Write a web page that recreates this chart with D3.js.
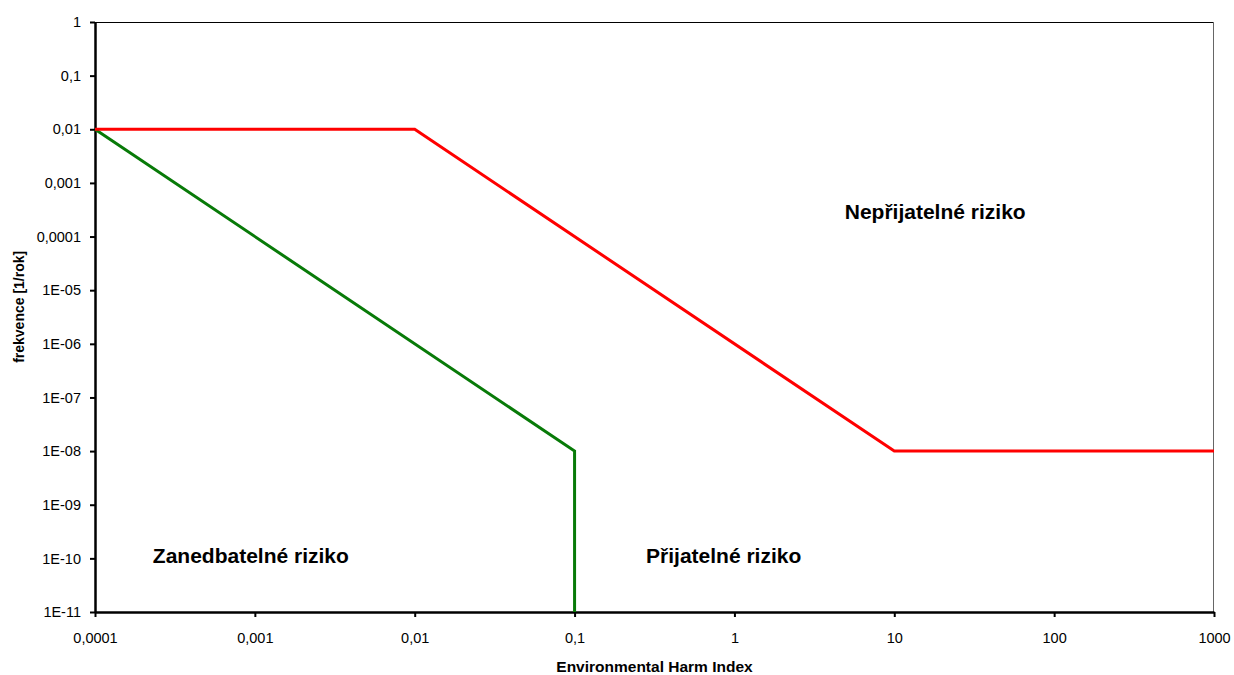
<!DOCTYPE html>
<html>
<head>
<meta charset="utf-8">
<script src="https://cdn.jsdelivr.net/npm/d3@7"></script>
<style>
  body { margin: 0; background: #fff; }
  text { font-family: Arial, "Liberation Sans", sans-serif; }
</style>
</head>
<body>
<div id="chart"></div>
<script>
// data
var xTicks = [0.0001, 0.001, 0.01, 0.1, 1, 10, 100, 1000];
var xTickLabels = ["0,0001", "0,001", "0,01", "0,1", "1", "10", "100", "1000"];
var yTicks = [1, 0.1, 0.01, 0.001, 0.0001, 1e-5, 1e-6, 1e-7, 1e-8, 1e-9, 1e-10, 1e-11];
var yTickLabels = ["1", "0,1", "0,01", "0,001", "0,0001", "1E-05", "1E-06", "1E-07", "1E-08", "1E-09", "1E-10", "1E-11"];

var redX = [0.0001, 0.01, 10, 1000];
var redY = [0.01, 0.01, 1e-8, 1e-8];
var greenX = [0.0001, 0.1, 0.1];
var greenY = [0.01, 1e-8, 1e-11];

var regionNames = ["Nepřijatelné riziko", "Zanedbatelné riziko", "Přijatelné riziko"];
var regionX = [4.9, 0.00023, 0.28];
var regionY = [2.1e-4, 8.1e-11, 8.1e-11];

var xTitle = "Environmental Harm Index";
var yTitle = "frekvence [1/rok]";

// dimensions
var margin = { top: 22, right: 20, bottom: 63, left: 95 },
    width = 1234 - margin.left - margin.right,
    height = 675 - margin.top - margin.bottom;

var svg = d3.select("#chart")
    .append("svg")
    .attr("width", 1234)
    .attr("height", 675)
    .append("g")
    .attr("transform", "translate(" + margin.left + "," + margin.top + ")");

var x = d3.scaleLog().domain([0.0001, 1000]).range([0, width]);
var y = d3.scaleLog().domain([1e-11, 1]).range([height, 0]);

// plot box (top and right thin)
svg.append("line")
    .attr("x1", 0).attr("x2", width).attr("y1", 0.5).attr("y2", 0.5)
    .attr("stroke", "#000").attr("stroke-width", 1);
svg.append("line")
    .attr("x1", width - 0.5).attr("x2", width - 0.5).attr("y1", 0).attr("y2", height)
    .attr("stroke", "#666").attr("stroke-width", 1);

// axes
var xAxis = svg.append("g")
    .attr("transform", "translate(0," + height + ")")
    .call(d3.axisBottom(x).tickValues(xTicks)
        .tickFormat(function (d, i) { return xTickLabels[i]; })
        .tickSizeInner(5).tickSizeOuter(0).tickPadding(16));

var yAxis = svg.append("g")
    .call(d3.axisLeft(y).tickValues(yTicks)
        .tickFormat(function (d, i) { return yTickLabels[i]; })
        .tickSizeInner(5).tickSizeOuter(0).tickPadding(9));

[xAxis, yAxis].forEach(function (a) {
    a.select(".domain").attr("stroke", "#000").attr("stroke-width", 2.5);
    a.selectAll(".tick line").attr("stroke", "#000").attr("stroke-width", 2);
    a.selectAll(".tick text")
        .style("font-family", "Arial, 'Liberation Sans', sans-serif")
        .style("font-size", "14.5px")
        .attr("fill", "#000");
});

// lines
var line = d3.line()
    .x(function (d) { return x(d[0]); })
    .y(function (d) { return y(d[1]); });

svg.append("path")
    .datum(greenX.map(function (v, i) { return [v, greenY[i]]; }))
    .attr("fill", "none")
    .attr("stroke", "#087A08")
    .attr("stroke-width", 3)
    .attr("d", line);

svg.append("path")
    .datum(redX.map(function (v, i) { return [v, redY[i]]; }))
    .attr("fill", "none")
    .attr("stroke", "#FF0000")
    .attr("stroke-width", 3)
    .attr("d", line);

// region labels
svg.selectAll("text.region")
    .data(regionNames)
    .enter()
    .append("text")
    .attr("class", "region")
    .attr("x", function (d, i) { return x(regionX[i]); })
    .attr("y", function (d, i) { return y(regionY[i]); })
    .style("font-size", "21px")
    .style("font-weight", "bold")
    .text(function (d) { return d; });

// axis titles
svg.append("text")
    .attr("x", width / 2)
    .attr("y", height + 60)
    .style("text-anchor", "middle")
    .style("font-size", "15.5px")
    .style("font-weight", "bold")
    .text(xTitle);

svg.append("text")
    .attr("transform", "rotate(-90)")
    .attr("x", 0 - (y(1e-6) - 37))
    .attr("y", 0 - margin.left + 24)
    .style("text-anchor", "middle")
    .style("font-size", "14px")
    .style("font-weight", "bold")
    .text(yTitle);
</script>
</body>
</html>
